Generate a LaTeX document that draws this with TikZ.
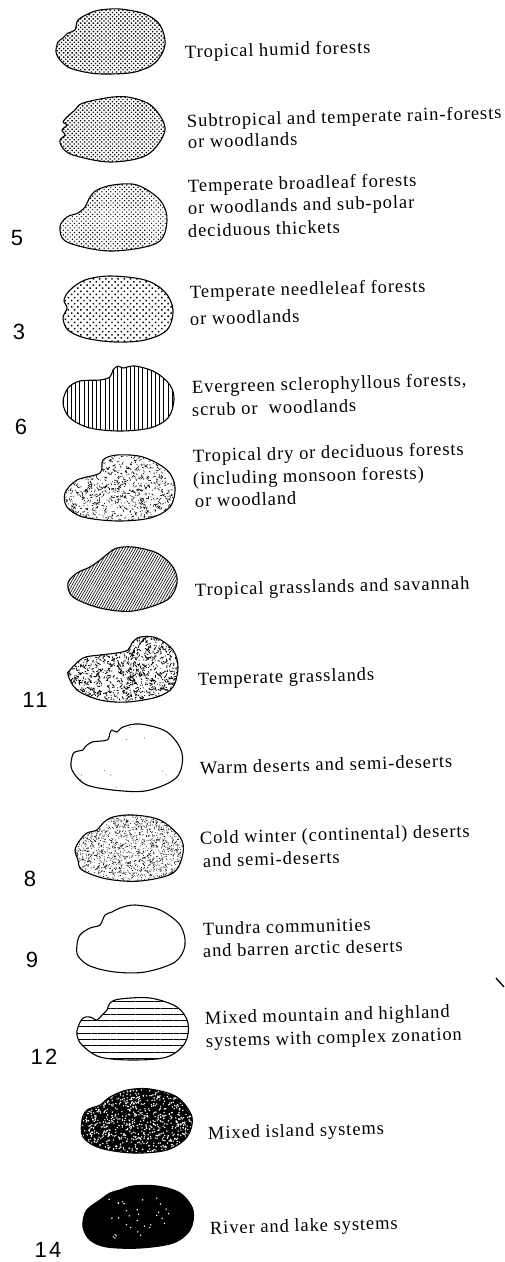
\documentclass[tikz,border=0pt]{standalone}
\usepackage{fontspec}
\setmainfont[LetterSpace=5]{Liberation Serif}
\newfontfamily\numfont[LetterSpace=10]{Liberation Sans}
\usetikzlibrary{patterns,patterns.meta}
\tikzset{
  blobedge/.style={draw=black, line width=1.1pt, line join=round},
  lab/.style={anchor=base west, inner sep=0pt, rotate=1.5, font=\fontsize{18.5}{21}\selectfont},
  num/.style={inner sep=0pt, font=\numfont\fontsize{22}{24}\selectfont},
}
\newcommand{\biomeblob}[2]{%
  \begin{scope}
    \clip plot[smooth cycle, tension=0.55] coordinates {#1};
    #2
  \end{scope}
  \draw[blobedge] plot[smooth cycle, tension=0.55] coordinates {#1};
}
\newcommand{\patfill}[1]{\fill[pattern color=black, pattern={#1}] (0,0) rectangle (504,1262);}
\newcommand{\speckle}[5]{\foreach \k in {1,...,#3}{\fill[#5] ({#1+58*rand},{#2+36*rand}) circle[radius=#4];}}
\newcommand{\scribble}[4]{\foreach \k in {1,...,#3}{\draw[line width=#4, line cap=round] ({#1+58*rand},{#2+36*rand}) -- ++({2.6*rand},{2.6*rand});}}
\begin{document}
\begin{tikzpicture}[x=1pt, y=-1pt]
\path[fill=white] (0,0) rectangle (504,1262);
\useasboundingbox (0,0) rectangle (504,1262);
\pgfmathsetseed{7}

% 1 Tropical humid forests
\biomeblob{(100,10) (120,9) (145,14) (160,25) (165,45) (155,63) (135,72) (110,74) (90,73) (70,68) (60,60) (56,52) (58,42) (63,38) (68,33) (75,30) (78,20) (90,13)}
  {\patfill{Dots[distance=3pt, angle=45, radius=0.95pt]}}
% 2 Subtropical
\biomeblob{(113,97) (133,98) (153,107) (165,130) (147,155) (110,162) (73,155) (62,147) (60,140) (65,135) (62,130) (67,125) (63,122) (67,117) (75,110) (83,103)}
  {\patfill{Dots[distance=3pt, angle=45, radius=0.9pt]}}
% 3 Temperate broadleaf
\biomeblob{(113,185) (137,185) (160,200) (167,220) (157,243) (110,251) (67,242) (60,227) (67,217) (78,213) (85,207) (90,197) (97,190)}
  {\patfill{Dots[distance=3.2pt, angle=45, radius=0.8pt]}}
% 4 Temperate needleleaf
\biomeblob{(110,276) (145,280) (165,292) (173,310) (167,330) (145,340) (115,342) (85,338) (68,330) (63,318) (67,308) (64,300) (70,290) (85,280)}
  {\patfill{Dots[distance=4.4pt, angle=45, radius=1.05pt]}}
% 5 Evergreen sclerophyllous
\biomeblob{(63,403) (68,388) (80,381) (100,380) (110,377) (113,370) (118,366) (123,368) (135,366) (155,372) (170,385) (174,400) (168,418) (150,428) (120,431) (90,428) (70,418)}
  {\patfill{Lines[distance=4.2pt, angle=90, line width=0.8pt]}}
% 6 Tropical dry
\biomeblob{(65,493) (77,480) (100,473) (103,460) (117,455) (143,457) (167,470) (175,487) (170,507) (150,518) (117,521) (83,517) (67,507)}
  {\scribble{120}{488}{600}{0.6pt}\speckle{120}{488}{350}{0.5pt}{black}}
% 7 Tropical grasslands
\biomeblob{(68,583) (77,573) (90,567) (100,560) (110,552) (117,548) (133,547) (157,553) (173,567) (177,583) (167,600) (133,611) (100,608) (73,597)}
  {\patfill{Lines[distance=2.3pt, angle=60, line width=0.6pt]}}
% 8 Temperate grasslands
\biomeblob{(70,670) (83,658) (100,655) (117,653) (128,650) (132,643) (140,637) (157,638) (173,650) (178,667) (173,687) (157,697) (127,702) (100,700) (77,690) (68,675)}
  {\scribble{123}{670}{800}{0.8pt}\speckle{123}{670}{400}{0.6pt}{black}}
% 9 Warm deserts
\biomeblob{(72,757) (75,752) (83,750) (85,747) (92,742) (107,740) (110,733) (112,730) (117,732) (123,727) (140,724) (167,732) (182,753) (177,777) (150,790) (123,791) (87,785) (72,770)}
  {\speckle{125}{757}{14}{0.7pt}{black!45}}
% 10 Cold winter deserts
\biomeblob{(75,850) (80,840) (87,833) (97,830) (103,823) (113,817) (133,815) (160,820) (180,837) (183,853) (173,873) (140,881) (107,879) (82,870) (78,860)}
  {\speckle{129}{848}{1600}{0.5pt}{black}\scribble{129}{848}{150}{0.5pt}}
% 11 Tundra
\biomeblob{(77,945) (80,935) (90,928) (100,925) (105,915) (112,912) (120,908) (135,905) (160,910) (180,925) (185,945) (175,962) (145,972) (115,972) (90,966) (78,956)}
  {}
% 12 Mixed mountain
\biomeblob{(78,1027) (83,1018) (90,1017) (97,1020) (102,1015) (107,1010) (110,1003) (120,999) (150,998) (177,1007) (188,1023) (185,1043) (167,1057) (133,1060) (100,1057) (82,1045) (77,1035)}
  {\patfill{Lines[distance=6.3pt, angle=0, line width=0.8pt, yshift=2pt]}}
% 13 Mixed island
\biomeblob{(82,1120) (87,1110) (100,1105) (110,1097) (127,1090) (150,1089) (177,1097) (192,1117) (187,1137) (167,1150) (133,1153) (100,1148) (83,1137)}
  {\fill[black] (0,0) rectangle (504,1262); \speckle{137}{1121}{1000}{0.8pt}{white}}
% 14 River and lake
\biomeblob{(83,1227) (85,1213) (90,1207) (100,1200) (110,1193) (120,1190) (133,1186) (157,1186) (180,1193) (193,1210) (190,1230) (173,1243) (140,1248) (107,1247) (90,1240)}
  {\fill[black] (0,0) rectangle (504,1262); \foreach \k in {1,...,32}{\fill[white] ({140+32*rand},{1218+20*rand}) circle[radius=0.8pt];}}

% labels
\node[lab] (t1) at (185,58) {Tropical humid forests};
\node[lab] (t2a) at (187,127) {Subtropical and temperate rain-forests};
\node[lab] (t2b) at (188,148) {or woodlands};
\node[lab] (t3a) at (188,192) {Temperate broadleaf forests};
\node[lab] (t3b) at (188,214) {or woodlands and sub-polar};
\node[lab] (t3c) at (188,237) {deciduous thickets};
\node[lab] (t4a) at (190,298) {Temperate needleleaf forests};
\node[lab] (t4b) at (190,325) {or woodlands};
\node[lab] (t5a) at (192,393) {Evergreen sclerophyllous forests,};
\node[lab] (t5b) at (192,416) {scrub or\ \ woodlands};
\node[lab] (t6a) at (193,462) {Tropical dry or deciduous forests};
\node[lab] (t6b) at (193,485) {(including monsoon forests)};
\node[lab] (t6c) at (195,507) {or woodland};
\node[lab] (t7) at (195,596) {Tropical grasslands and savannah};
\node[lab] (t8) at (198,685) {Temperate grasslands};
\node[lab] (t9) at (200,774) {Warm deserts and semi-deserts};
\node[lab] (t10a) at (200,844) {Cold winter (continental) deserts};
\node[lab] (t10b) at (203,867) {and semi-deserts};
\node[lab] (t11a) at (203,935) {Tundra communities};
\node[lab] (t11b) at (203,957) {and barren arctic deserts};
\node[lab] (t12a) at (205,1024) {Mixed mountain and highland};
\node[lab] (t12b) at (206,1047) {systems with complex zonation};
\node[lab] (t13) at (208,1139) {Mixed island systems};
\node[lab] (t14) at (210,1234) {River and lake systems};

% numbers
\node[num] (n5) at (17,238) {5};
\node[num] (n3) at (19,332) {3};
\node[num] (n6) at (21,427) {6};
\node[num] (n11) at (35,700) {11};
\node[num] (n8) at (30,879) {8};
\node[num] (n9) at (32,960) {9};
\node[num] (n12) at (44,1057) {12};
\node[num] (n14) at (48,1250) {14};

% stray mark at right edge
\coordinate (m1) at (496,978);
\coordinate (m2) at (504,987);
\draw[line width=1.3pt] (m1) -- (m2);
\end{tikzpicture}
\end{document}
